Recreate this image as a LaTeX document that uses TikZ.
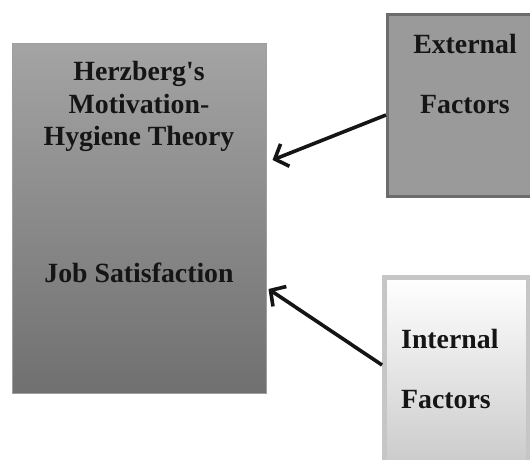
\documentclass[tikz,border=0pt]{standalone}
\usepackage{fontspec}
\setmainfont{Liberation Serif}
\usetikzlibrary{arrows.meta}
\definecolor{hztop}{HTML}{A4A4A4}
\definecolor{hzbot}{HTML}{707070}
\definecolor{extfill}{HTML}{9A9A9A}
\definecolor{extline}{HTML}{6C6C6C}
\definecolor{intline}{HTML}{C6C6C6}
\definecolor{intbot}{HTML}{C8C8C8}
\definecolor{ink}{HTML}{151515}
\tikzset{
  lbl/.style={font=\bfseries\fontsize{27.8}{33}\selectfont, text=ink, inner sep=0pt, anchor=base},
  lbll/.style={lbl, anchor=base west},
  arr/.style={draw=ink, line width=3.6pt, -{Straight Barb[length=11pt,width=24pt]}}
}
\begin{document}
\begin{tikzpicture}[x=1pt,y=-1pt]
\useasboundingbox (0,0) rectangle (530,459);
% boxes
\node[inner sep=0pt, minimum width=254pt, minimum height=350pt, draw=gray!75, line width=1pt,
      top color=hztop, bottom color=hzbot] (hz) at (139.5,218.5) {};
\node[inner sep=0pt, minimum width=152.5pt, minimum height=182pt, draw=extline, line width=3pt,
      fill=extfill] (ext) at (463.75,105.5) {};
\node[inner sep=0pt, minimum width=143.5pt, minimum height=197.5pt, draw=intline, line width=5pt,
      top color=white, middle color=white, bottom color=intbot] (int) at (456.25,376.25) {};
% texts
\node[lbl] (t1) at (139,80) {Herzberg\textquotesingle s};
\node[lbl] (t2) at (139,113) {Motivation-};
\node[lbl] (t3) at (139,145) {Hygiene Theory};
\node[lbl] (t4) at (139,282) {Job Satisfaction};
\node[lbl] (e1) at (465,53) {External};
\node[lbl] (e2) at (465,113) {Factors};
\node[lbll] (i1) at (401,348) {Internal};
\node[lbll] (i2) at (401,408) {Factors};
% arrows
\draw[arr] ([yshift=-9.5pt]ext.west) -- ([xshift=5.5pt,yshift=58.5pt]hz.east);
\draw[arr] ([yshift=11.25pt]int.west) -- ([xshift=1.5pt,yshift=-70.5pt]hz.east);
\end{tikzpicture}
\end{document}
